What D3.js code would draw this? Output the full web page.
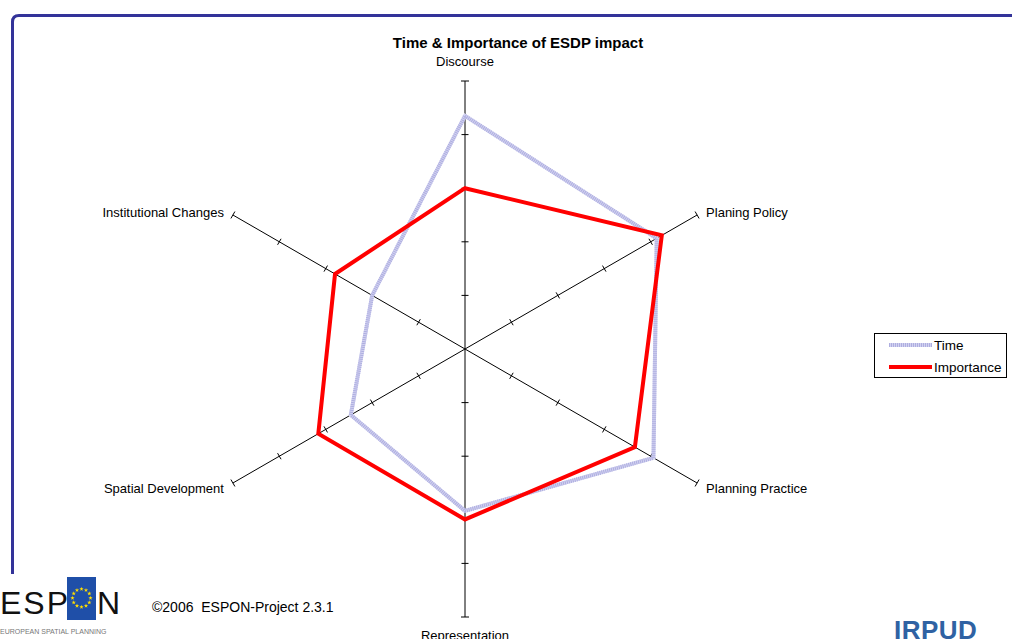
<!DOCTYPE html>
<html>
<head>
<meta charset="utf-8">
<script src="https://cdn.jsdelivr.net/npm/d3@7"></script>
<style>
  html, body { margin: 0; padding: 0; background: #fff; }
  svg { display: block; font-family: "Liberation Sans", Arial, sans-serif; }
</style>
</head>
<body>
<svg id="chart" width="1012" height="639"></svg>
<script>
// Radar axes, clockwise from the top
const axes = ["Discourse", "Planing Policy", "Planning Practice", "Representation", "Spatial Development", "Institutional Changes"];
// Series values on a 0–5 scale
const timeValues = [4.35, 4.13, 4.06, 3.02, 2.46, 2.0];
const importanceValues = [3.0, 4.24, 3.66, 3.18, 3.16, 2.8];
const tickValues = [1, 2, 3, 4, 5];
const seriesNames = ["Time", "Importance"];

const svg = d3.select("#chart");
const cx = 465, cy = 349, R = 268;
const r = d3.scaleLinear().domain([0, 5]).range([0, R]);
const angle = i => -Math.PI / 2 + i * (2 * Math.PI / axes.length);
const pt = (i, v) => [cx + r(v) * Math.cos(angle(i)), cy + r(v) * Math.sin(angle(i))];

// Blue frame (top and left edges)
svg.append("path")
  .attr("d", "M12.5,580 L12.5,22 Q12.5,15.5 19,15.5 L1012,15.5")
  .attr("fill", "none").attr("stroke", "#333399").attr("stroke-width", 3);

// Title
svg.append("text").attr("x", 518).attr("y", 48).attr("text-anchor", "middle")
  .attr("font-size", 15).attr("font-weight", "bold").attr("fill", "#000")
  .text("Time & Importance of ESDP impact");

// Axes with tick marks
const gAxes = svg.append("g");
axes.forEach((name, i) => {
  const a = angle(i);
  const [x2, y2] = pt(i, 5);
  gAxes.append("line").attr("x1", cx).attr("y1", cy).attr("x2", x2).attr("y2", y2)
    .attr("stroke", "#000").attr("stroke-width", 1);
  const px = -Math.sin(a), py = Math.cos(a);
  tickValues.forEach(t => {
    const [tx, ty] = pt(i, t);
    const h = t === 5 ? 4 : 3.5;
    gAxes.append("line")
      .attr("x1", tx - px * h).attr("y1", ty - py * h)
      .attr("x2", tx + px * h).attr("y2", ty + py * h)
      .attr("stroke", "#000").attr("stroke-width", 1);
  });
});

// Axis labels
const labelPos = [
  { dx: 0, dy: -20, anchor: "middle" },
  { dx: 9, dy: -3, anchor: "start" },
  { dx: 9, dy: 5, anchor: "start" },
  { dx: 0, dy: 18, anchor: "middle" },
  { dx: -9, dy: 5, anchor: "end" },
  { dx: -9, dy: -3, anchor: "end" }
];
axes.forEach((name, i) => {
  const [x, y] = pt(i, 5);
  const p = labelPos[i];
  svg.append("text").attr("x", x + p.dx).attr("y", y + p.dy + 4.5)
    .attr("text-anchor", p.anchor).attr("font-size", 13).attr("fill", "#000")
    .text(name);
});

// Series polygons
const line = d3.line().curve(d3.curveLinearClosed);
const timePts = timeValues.map((v, i) => pt(i, v));
const impPts = importanceValues.map((v, i) => pt(i, v));

function timeStroke(sel) {
  sel.append("path").attr("d", sel.datum()).attr("fill", "none")
    .attr("stroke", "#d2d2f0").attr("stroke-width", 4).attr("stroke-linejoin", "miter");
  sel.append("path").attr("d", sel.datum()).attr("fill", "none")
    .attr("stroke", "#aeaee0").attr("stroke-width", 4).attr("stroke-dasharray", "1 1")
    .attr("stroke-linejoin", "miter");
}
svg.append("g").datum(line(timePts)).call(timeStroke);
svg.append("path").attr("d", line(impPts)).attr("fill", "none")
  .attr("stroke", "#ff0000").attr("stroke-width", 4).attr("stroke-linejoin", "miter");

// Legend
const lg = svg.append("g");
lg.append("rect").attr("x", 874.5).attr("y", 333.5).attr("width", 132).attr("height", 44)
  .attr("fill", "#fff").attr("stroke", "#000").attr("stroke-width", 1);
lg.append("g").datum("M889,345 L932,345").call(timeStroke);
lg.append("line").attr("x1", 889).attr("y1", 367).attr("x2", 932).attr("y2", 367)
  .attr("stroke", "#ff0000").attr("stroke-width", 4);
seriesNames.forEach((s, i) => {
  lg.append("text").attr("x", 934).attr("y", 350 + i * 22).attr("font-size", 13.5)
    .attr("fill", "#000").text(s);
});

// Footer: ESPON logo
const logo = svg.append("g");
logo.append("rect").attr("x", 0).attr("y", 574).attr("width", 120).attr("height", 65).attr("fill", "#fff");
logo.append("text").attr("x", 0).attr("y", 614).attr("font-size", 32).attr("fill", "#111")
  .attr("letter-spacing", 2).text("ESP");
logo.append("rect").attr("x", 67).attr("y", 577).attr("width", 29).attr("height", 43).attr("fill", "#1f4fa8");
const star = d3.symbol().type(d3.symbolStar).size(6);
d3.range(12).forEach(k => {
  const a = k * Math.PI / 6;
  logo.append("path").attr("d", star())
    .attr("transform", `translate(${81.5 + 9 * Math.cos(a)},${598 + 9 * Math.sin(a)})`)
    .attr("fill", "#ffdd00");
});
logo.append("text").attr("x", 97).attr("y", 614).attr("font-size", 32).attr("fill", "#111").text("N");
logo.append("text").attr("x", 0).attr("y", 634).attr("font-size", 7).attr("fill", "#777")
  .text("EUROPEAN SPATIAL PLANNING");

svg.append("text").attr("x", 152).attr("y", 612).attr("font-size", 14).attr("fill", "#000")
  .text("©2006\u00a0\u00a0ESPON-Project 2.3.1");

// IRPUD logo
svg.append("text").attr("x", 894).attr("y", 639).attr("font-size", 26).attr("font-weight", "bold")
  .attr("fill", "#2f62a3").attr("letter-spacing", 0.5).text("IRPUD");
</script>
</body>
</html>
